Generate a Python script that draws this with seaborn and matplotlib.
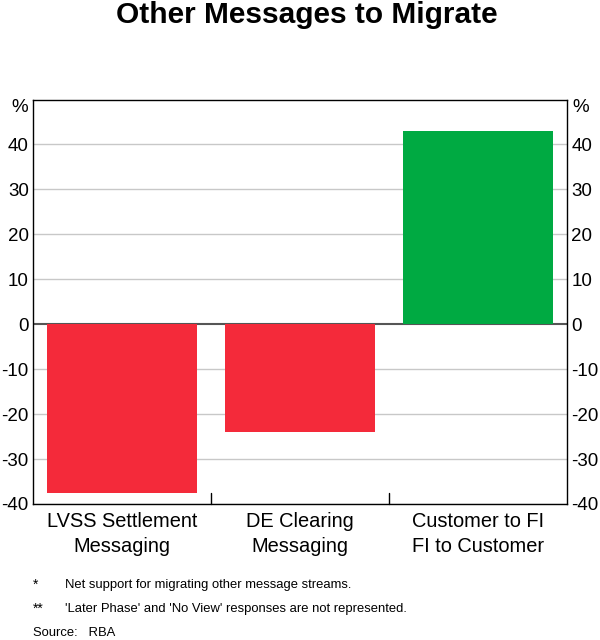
import matplotlib
matplotlib.use("Agg")
import matplotlib.pyplot as plt
import seaborn as sns
import pandas as pd

categories = ["LVSS Settlement\nMessaging", "DE Clearing\nMessaging", "Customer to FI\nFI to Customer"]
net_support = [-37.6, -23.9, 43.0]
bar_colors = ["#F42A3A", "#F42A3A", "#00AA42"]
y_ticks = [-40, -30, -20, -10, 0, 10, 20, 30, 40]
footnotes = [
    ("*", "Net support for migrating other message streams."),
    ("**", "'Later Phase' and 'No View' responses are not represented."),
]

sns.set_theme(style="white")
plt.rcParams["font.family"] = ["Liberation Sans", "DejaVu Sans"]
plt.rcParams["text.color"] = "black"
plt.rcParams["xtick.color"] = "black"
plt.rcParams["ytick.color"] = "black"

df = pd.DataFrame({"category": categories, "value": net_support})

fig = plt.figure(figsize=(6, 6.4), dpi=100)
ax = fig.add_axes([0.055, 0.2125, 0.89, 0.632])

for y in y_ticks:
    if y != 0:
        ax.axhline(y, color="#c8c8c8", lw=1, zorder=0)
ax.axhline(0, color="#555555", lw=1.5, zorder=1)

sns.barplot(data=df, x="category", y="value", hue="category", palette=bar_colors,
            saturation=1, width=0.84, legend=False, ax=ax, edgecolor="none", zorder=2)

ax.set_ylim(-40, 50)
ax.set_xlim(-0.5, 2.5)
ax.set_yticks(y_ticks)
ax.set_yticklabels([str(v) for v in y_ticks])
ax.tick_params(axis="y", length=0, labelsize=13.5, pad=3,
               labelleft=True, labelright=True)
ax.tick_params(axis="x", length=0, labelsize=14.4, pad=6)
for lab in ax.get_xticklabels():
    lab.set_linespacing(1.35)
ax.set_xlabel("")
ax.set_ylabel("")
for s in ax.spines.values():
    s.set_color("black")
    s.set_linewidth(1)

# category boundary ticks on the bottom axis
for b in [0.5, 1.5]:
    ax.plot([b, b], [-40, -37.6], color="black", lw=1, clip_on=False, zorder=3)

ax.text(-0.01, 50 - 1.8, "%", transform=ax.get_yaxis_transform(), ha="right", va="center", fontsize=13.5)
ax.text(1.01, 50 - 1.8, "%", transform=ax.get_yaxis_transform(), ha="left", va="center", fontsize=13.5)

fig.text(0.512, 1 - 15 / 640, "Other Messages to Migrate", ha="center", va="center",
         fontsize=21.5, fontweight="bold")

for i, (mark, note) in enumerate(footnotes):
    yy = 1 - (585 + 24 * i) / 640
    fig.text(33 / 600, yy, mark, ha="left", va="center", fontsize=10)
    fig.text(65 / 600, yy, note, ha="left", va="center", fontsize=9.4)
fig.text(33 / 600, 1 - 633 / 640, "Source:   RBA", ha="left", va="center", fontsize=9.4)

fig.savefig("out.png", dpi=100)
